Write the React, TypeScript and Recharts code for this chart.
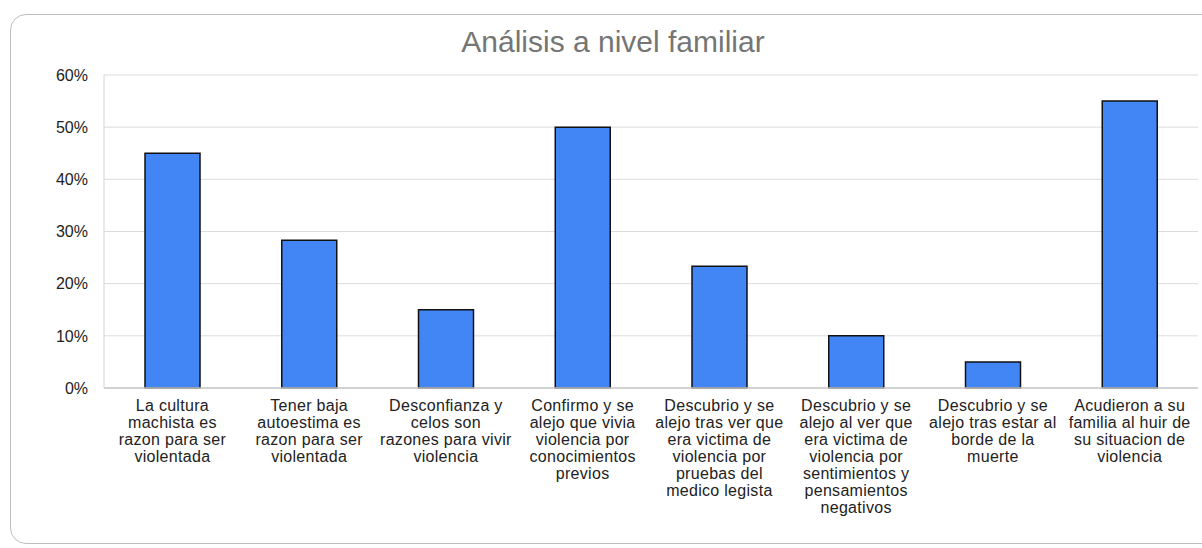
import { BarChart, Bar, XAxis, YAxis, CartesianGrid } from 'recharts';

// category labels, line breaks as in the original chart
const categories = [
  'La cultura\nmachista es\nrazon para ser\nviolentada',
  'Tener baja\nautoestima es\nrazon para ser\nviolentada',
  'Desconfianza y\ncelos son\nrazones para vivir\nviolencia',
  'Confirmo y se\nalejo que vivia\nviolencia por\nconocimientos\nprevios',
  'Descubrio y se\nalejo tras ver que\nera victima de\nviolencia por\npruebas del\nmedico legista',
  'Descubrio y se\nalejo al ver que\nera victima de\nviolencia por\nsentimientos y\npensamientos\nnegativos',
  'Descubrio y se\nalejo tras estar al\nborde de la\nmuerte',
  'Acudieron a su\nfamilia al huir de\nsu situacion de\nviolencia',
];

const values = [0.45, 0.2833, 0.15, 0.5, 0.2333, 0.1, 0.05, 0.55];

const yTicks = [0, 0.1, 0.2, 0.3, 0.4, 0.5, 0.6];

const data = categories.map((name, i) => ({ name, value: values[i] }));

const FONT = '"Liberation Sans", Arial, sans-serif';

const CategoryTick = (props: any) => {
  const { x, y, payload } = props;
  const lines = String(payload.value).split('\n');
  return (
    <text x={x} y={y + 15} textAnchor="middle" fill="#222" fontSize={16} letterSpacing={0.3} fontFamily={FONT}>
      {lines.map((line, i) => (
        <tspan key={i} x={x} dy={i === 0 ? 0 : 17}>
          {line}
        </tspan>
      ))}
    </text>
  );
};

export default function App() {
  return (
    <div style={{ position: 'absolute', left: 0, top: 0, width: 1202, height: 548, background: '#fff', overflow: 'hidden' }}>
      <div
        style={{
          position: 'absolute',
          left: 10,
          top: 14,
          width: 1210,
          height: 530,
          border: '1px solid #bdbdbd',
          borderRadius: 16,
          boxSizing: 'border-box',
        }}
      />
      <div
        style={{
          position: 'absolute',
          left: 0,
          top: 25,
          width: 1226,
          textAlign: 'center',
          fontFamily: FONT,
          fontSize: 30,
          color: '#757575',
        }}
      >
        Análisis a nivel familiar
      </div>
      <div style={{ position: 'absolute', left: 0, top: 0 }}>
        <BarChart width={1202} height={548} data={data} margin={{ top: 75, right: 4, bottom: 10, left: 0 }} barCategoryGap="30%">
          <CartesianGrid vertical={false} stroke="#dcdcdc" />
          <XAxis
            dataKey="name"
            interval={0}
            height={150}
            axisLine={{ stroke: '#c8c8c8', strokeWidth: 1.5 }}
            tickLine={false}
            tick={<CategoryTick />}
          />
          <YAxis
            width={104}
            domain={[0, 0.6]}
            ticks={yTicks}
            interval={0}
            axisLine={{ stroke: '#d4d4d4' }}
            tickLine={false}
            tickSize={0}
            tickMargin={16}
            tick={{ fill: '#222', fontSize: 16, fontFamily: FONT }}
            tickFormatter={(v: number) => `${Math.round(v * 100)}%`}
          />
          <Bar dataKey="value" fill="#4285f4" stroke="#111" strokeWidth={1.5} barSize={55} isAnimationActive={false} />
        </BarChart>
      </div>
    </div>
  );
}
